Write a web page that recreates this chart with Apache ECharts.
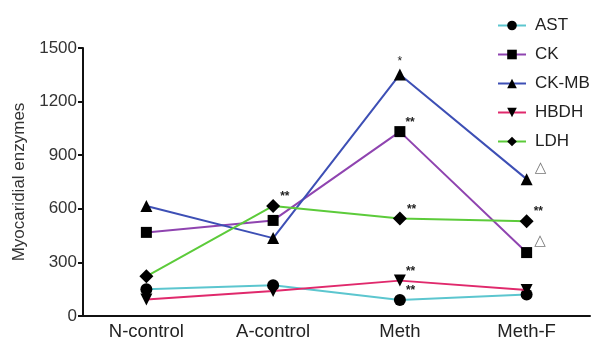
<!DOCTYPE html>
<html><head><meta charset="utf-8">
<script src="https://cdn.jsdelivr.net/npm/echarts@6/dist/echarts.min.js"></script>
<style>html,body{margin:0;padding:0;background:#fff}#c{width:599px;height:344px}</style>
</head><body><div id="c"></div>
<script>
const categories = ['N-control', 'A-control', 'Meth', 'Meth-F'];
const yTicks = [0, 300, 600, 900, 1200, 1500];
const seriesNames = ['AST', 'CK', 'CK-MB', 'HBDH', 'LDH'];
const astValues = [150, 172, 90, 120];
const ckValues = [468, 535, 1032, 355];
const ckmbValues = [616, 436, 1352, 766];
const hbdhValues = [92, 140, 198, 145];
const ldhValues = [222, 616, 546, 531];
const astMarks = ['', '', '**', ''];
const ckMarks = ['', '', '**', '△'];
const ckmbMarks = ['', '', '*', '△'];
const hbdhMarks = ['', '', '**', ''];
const ldhMarks = ['', '**', '**', '**'];

const colors = ['#5cc6cf', '#8f44b0', '#3d4fb5', '#e0296c', '#5ccb3a'];
const symbols = ['circle', 'rect', 'triangle', 'path://M0,0 L10,0 L5,9 Z', 'diamond'];
const sizes = [12, 11, 12, 12, 14];
const values = [astValues, ckValues, ckmbValues, hbdhValues, ldhValues];
const marks = [astMarks, ckMarks, ckmbMarks, hbdhMarks, ldhMarks];
const FONT = 'Liberation Sans, Arial, sans-serif';

function markLabel(m) {
  if (!m) return { show: false };
  if (m === '△') {
    return { show: true, formatter: m, position: 'right', offset: [-3, -11], fontSize: 15, color: '#777', fontFamily: 'DejaVu Sans' };
  }
  if (m === '*') {
    return { show: true, formatter: m, position: 'top', offset: [0, 4], fontSize: 12, color: '#222' };
  }
  return { show: true, formatter: m, position: 'right', offset: [-5, -9], fontSize: 12, color: '#222', fontWeight: 'bold' };
}

const series = seriesNames.map((name, i) => ({
  name: name,
  type: 'line',
  data: values[i].map((v, j) => ({ value: v, label: markLabel(marks[i][j]) })),
  symbol: symbols[i],
  symbolSize: sizes[i],
  lineStyle: { color: colors[i], width: 2 },
  itemStyle: { color: '#000', borderWidth: 0 },
  emphasis: { disabled: true },
  z: 2 + i
}));

const chart = echarts.init(document.getElementById('c'), null, { renderer: 'canvas' });
chart.setOption({
  animation: false,
  backgroundColor: '#fff',
  textStyle: { fontFamily: FONT },
  grid: { left: 83, right: 9, top: 48, bottom: 28, containLabel: false },
  legend: {
    orient: 'vertical',
    left: 492,
    top: 12,
    itemGap: 12,
    itemWidth: 28,
    itemHeight: 12,
    textStyle: { fontSize: 17, color: '#222', fontFamily: FONT, padding: [0, 0, 0, 4] },
    data: seriesNames
  },
  xAxis: {
    type: 'category',
    data: categories,
    boundaryGap: true,
    axisLine: { lineStyle: { color: '#111', width: 2 } },
    axisTick: { show: false },
    axisLabel: { fontSize: 18.5, color: '#222', margin: 6 },
    splitLine: { show: false }
  },
  yAxis: {
    type: 'value',
    min: yTicks[0],
    max: yTicks[yTicks.length - 1],
    interval: 300,
    name: 'Myocaridial enzymes',
    nameLocation: 'middle',
    nameGap: 55,
    nameTextStyle: { fontSize: 17, color: '#333' },
    axisLine: { show: true, lineStyle: { color: '#111', width: 2 } },
    axisTick: { show: true, length: 5, lineStyle: { color: '#111', width: 2 } },
    axisLabel: { fontSize: 17, color: '#333', margin: 6, formatter: v => String(v) },
    splitLine: { show: false }
  },
  series: series
});
</script>
</body></html>
